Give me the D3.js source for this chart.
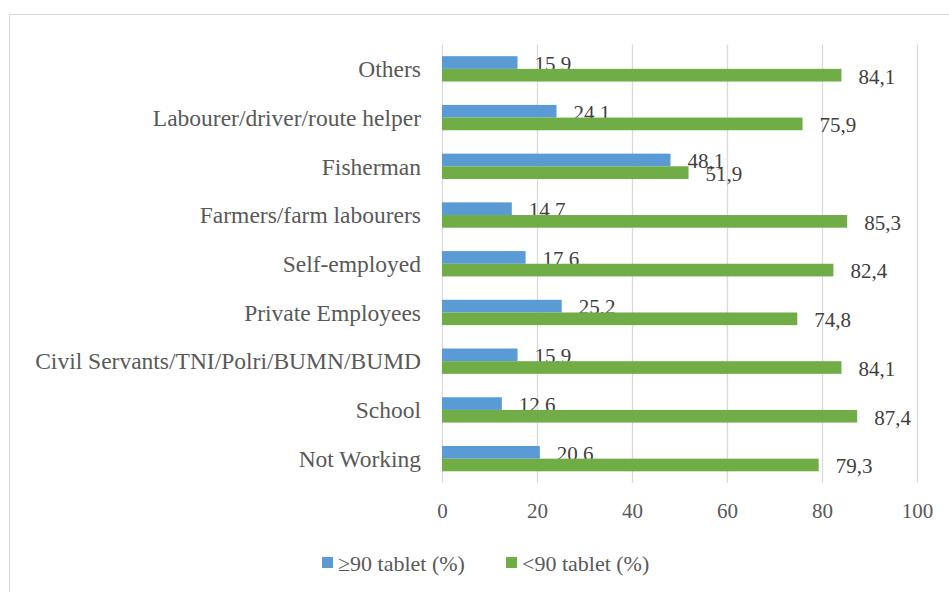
<!DOCTYPE html>
<html>
<head>
<meta charset="utf-8">
<script src="https://cdn.jsdelivr.net/npm/d3@7"></script>
<style>
  html, body { margin: 0; padding: 0; background: #fff; }
  svg { display: block; }
  svg text { font-family: 'Liberation Serif', 'DejaVu Serif', Tinos, 'Times New Roman', Times, serif !important; }
</style>
</head>
<body>
<svg id="chart" width="949" height="592"></svg>
<script>
const categories = [
  "Others",
  "Labourer/driver/route helper",
  "Fisherman",
  "Farmers/farm labourers",
  "Self-employed",
  "Private Employees",
  "Civil Servants/TNI/Polri/BUMN/BUMD",
  "School",
  "Not Working"
];
const seriesNames = ["\u226590 tablet (%)", "<90 tablet (%)"];
const above90 = [15.9, 24.1, 48.1, 14.7, 17.6, 25.2, 15.9, 12.6, 20.6];
const below90 = [84.1, 75.9, 51.9, 85.3, 82.4, 74.8, 84.1, 87.4, 79.3];
const xTicks = [0, 20, 40, 60, 80, 100];
const colors = ["#5B9BD5", "#70AD47"];
const FONT = "'Liberation Serif', 'DejaVu Serif', Tinos, 'Times New Roman', Times, serif";

const svg = d3.select("#chart").attr("font-family", FONT);

// frame
svg.append("rect")
  .attr("x", 9.5).attr("y", 14.5)
  .attr("width", 960).attr("height", 600)
  .attr("fill", "none").attr("stroke", "#d9d9d9").attr("stroke-width", 1);

const x = d3.scaleLinear().domain([0, 100]).range([442, 917]);
const y = d3.scaleBand().domain(categories).range([44.5, 483])
  .paddingInner(0.48).paddingOuter(0.24);
const sub = d3.scaleBand().domain([0, 1]).range([0, y.bandwidth()]);

// gridlines
svg.append("g").selectAll("line").data(xTicks).join("line")
  .attr("x1", d => Math.round(x(d)) + 0.5).attr("x2", d => Math.round(x(d)) + 0.5)
  .attr("y1", 44.5).attr("y2", 483)
  .attr("stroke", "#d9d9d9").attr("stroke-width", 1.3);

// x axis tick labels
const xAxis = d3.axisBottom(x).tickValues(xTicks).tickSize(0).tickPadding(0)
  .tickFormat(d3.format("d"));
const gx = svg.append("g").attr("transform", "translate(0,503)").call(xAxis)
  .attr("font-family", FONT);
gx.select(".domain").remove();
gx.selectAll("text").attr("font-size", 21).attr("dy", "0.71em").attr("fill", "#595959");

// y axis labels
const yAxis = d3.axisLeft(y).tickSize(0).tickPadding(0);
const gy = svg.append("g").attr("transform", "translate(421,0)").call(yAxis)
  .attr("font-family", FONT);
gy.select(".domain").remove();
gy.selectAll("text").attr("font-size", 23.5).attr("dy", "0.35em").attr("fill", "#595959");

const seriesData = [above90, below90];
seriesData.forEach((vals, si) => {
  const g = svg.append("g");
  g.selectAll("rect").data(vals).join("rect")
    .attr("x", x(0))
    .attr("y", (d, i) => y(categories[i]) + sub(si))
    .attr("width", d => x(d) - x(0))
    .attr("height", sub.bandwidth())
    .attr("fill", colors[si]);
  g.selectAll("text").data(vals).join("text")
    .attr("x", d => x(d) + 17)
    .attr("y", (d, i) => y(categories[i]) + sub(si) + sub.bandwidth() / 2 + 1)
    .attr("dy", "0.35em")
    .attr("font-size", 21)
    .attr("fill", "#404040")
    .text(d => d.toFixed(1).replace(".", ","));
});

// legend
const legendItems = [
  { x: 322, tx: 338 },
  { x: 506, tx: 522 }
];
legendItems.forEach((l, i) => {
  svg.append("rect").attr("x", l.x).attr("y", 557).attr("width", 11).attr("height", 11)
    .attr("fill", colors[i]);
  svg.append("text").attr("x", l.tx).attr("y", 563).attr("dy", "0.35em")
    .attr("font-size", 22).attr("fill", "#595959").text(seriesNames[i]);
});
</script>
</body>
</html>
